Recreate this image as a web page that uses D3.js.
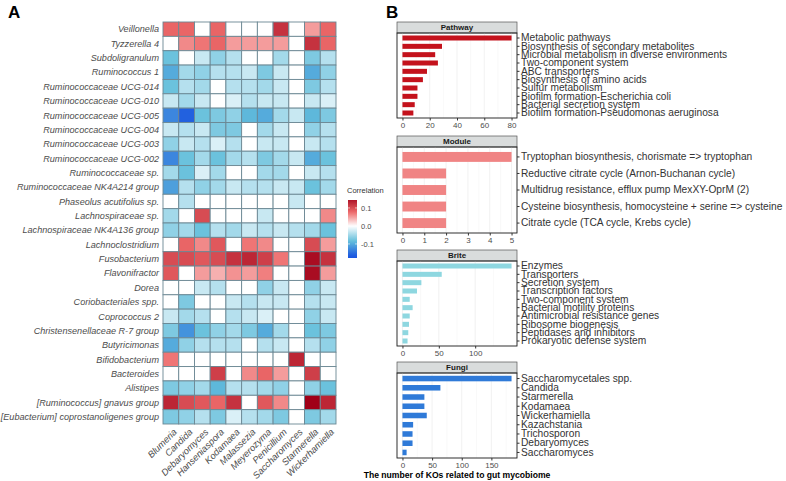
<!DOCTYPE html>
<html><head><meta charset="utf-8">
<script src="https://cdn.jsdelivr.net/npm/d3@7"></script>
<style>body{margin:0;background:#fff}svg{display:block;font-family:"Liberation Sans",Arial,sans-serif}</style>
</head><body><svg id="c" width="786" height="481"></svg>
<script>
// ---------- DATA ----------
const fungiCols = ["Blumeria","Candida","Debaryomyces","Hanseniaspora","Kodamaea","Malassezia","Meyerozyma","Penicillium","Saccharomyces","Starmerella","Wickerhamiella"];
const bacteriaRows = ["Veillonella","Tyzzerella 4","Subdoligranulum","Ruminococcus 1","Ruminococcaceae UCG-014","Ruminococcaceae UCG-010","Ruminococcaceae UCG-005","Ruminococcaceae UCG-004","Ruminococcaceae UCG-003","Ruminococcaceae UCG-002","Ruminococcaceae sp.","Ruminococcaceae NK4A214 group","Phaseolus acutifolius sp.","Lachnospiraceae sp.","Lachnospiraceae NK4A136 group","Lachnoclostridium","Fusobacterium","Flavonifractor","Dorea","Coriobacteriales spp.","Coprococcus 2","Christensenellaceae R-7 group","Butyricimonas","Bifidobacterium","Bacteroides","Alistipes","[Ruminococcus] gnavus group","[Eubacterium] coprostanoligenes group"];
const corrValues = [
 [0.08,0.08,0,0.08,0,0,0,0.12,0,0.05,0.08],
 [0,0.06,0.07,0.08,0.05,0.05,0.05,0.05,0,0.12,0.08],
 [-0.08,0,-0.03,-0.06,-0.04,0,0,-0.05,0,-0.07,-0.04],
 [-0.1,-0.05,-0.06,-0.04,-0.04,-0.03,-0.07,-0.03,0,-0.1,-0.06],
 [-0.08,-0.04,-0.05,0,-0.04,-0.04,-0.05,-0.03,0,-0.07,-0.04],
 [-0.03,-0.05,-0.03,0,-0.02,-0.04,-0.03,-0.03,0,-0.03,-0.02],
 [-0.13,-0.16,-0.08,-0.07,-0.06,-0.09,-0.1,-0.05,-0.03,-0.09,-0.07],
 [-0.03,-0.04,-0.03,-0.07,-0.07,0,-0.05,-0.03,0,-0.06,-0.04],
 [-0.06,-0.03,-0.04,-0.02,-0.04,0,-0.03,-0.03,0,-0.03,-0.04],
 [-0.13,-0.08,-0.05,-0.08,-0.05,-0.04,-0.07,-0.05,-0.03,-0.1,-0.08],
 [-0.05,-0.08,-0.02,-0.05,0,0,-0.05,-0.05,0,-0.03,-0.04],
 [-0.11,-0.04,-0.06,-0.05,-0.03,-0.04,-0.04,-0.03,-0.03,-0.08,-0.05],
 [0,-0.04,0,0,0,0,0,0,-0.03,0,0],
 [-0.05,0,0.1,0,0,0,-0.03,0,0,0,0.06],
 [-0.06,-0.05,-0.08,-0.04,-0.05,-0.03,-0.04,-0.03,-0.04,-0.05,-0.08],
 [0,0.08,0.06,0.09,0,0.07,0.06,0,0,0.1,0.05],
 [0.1,0.1,0.09,0.1,0.12,0.13,0.11,0.07,0,0.15,0.12],
 [0.09,0,0.05,0.04,0.055,0.05,0.065,0,0,0.15,0.05],
 [0,0,-0.03,-0.04,0,0,-0.06,-0.03,0,-0.06,-0.03],
 [0,-0.07,0,0,-0.03,-0.04,-0.03,-0.03,0,-0.04,-0.03],
 [-0.03,-0.05,-0.04,0,-0.04,-0.03,-0.02,0,0,-0.06,-0.03],
 [-0.07,-0.12,-0.08,-0.06,-0.05,-0.07,-0.1,-0.05,0,-0.08,-0.07],
 [-0.1,-0.06,-0.04,-0.04,-0.04,0,-0.04,-0.03,0,-0.04,-0.06],
 [0.07,0,0,0,0,0,0,0,0.13,0,0],
 [0,0,0,0.11,0,0.06,0.08,0.05,0,0.11,0],
 [-0.07,-0.06,-0.05,-0.09,-0.04,-0.04,-0.05,-0.06,0,-0.06,-0.08],
 [0.13,0.1,0.09,0.08,0.12,0,0.09,0.06,0,0.17,0.13],
 [-0.07,-0.06,-0.04,-0.07,-0.02,-0.04,-0.05,-0.07,0,-0.07,-0.05]
];
const legendTicks = [0.1, 0.0, -0.1];

const pathwayLabels = ["Metabolic pathways","Biosynthesis of secondary metabolites","Microbial metabolism in diverse environments","Two-component system","ABC transporters","Biosynthesis of amino acids","Sulfur metabolism","Biofilm formation-Escherichia coli","Bacterial secretion system","Biofilm formation-Pseudomonas aeruginosa"];
const pathwayValues = [80,29,24,26,18,15,11,11,9,8];
const moduleLabels = ["Tryptophan biosynthesis, chorismate => tryptophan","Reductive citrate cycle (Arnon-Buchanan cycle)","Multidrug resistance, efflux pump MexXY-OprM (2)","Cysteine biosynthesis, homocysteine + serine => cysteine","Citrate cycle (TCA cycle, Krebs cycle)"];
const moduleValues = [5,2,2,2,2];
const briteLabels = ["Enzymes","Transporters","Secretion system","Transcription factors","Two-component system","Bacterial motility proteins","Antimicrobial resistance genes","Ribosome biogenesis","Peptidases and inhibitors","Prokaryotic defense system"];
const briteValues = [150,54,26,20,10,14,10,9,8,7];
const fungiLabels = ["Saccharomycetales spp.","Candida","Starmerella","Kodamaea","Wickerhamiella","Kazachstania","Trichosporon","Debaryomyces","Saccharomyces"];
const fungiValues = [184,64,37,37,41,18,17,17,7];

// ---------- DRAW ----------
const svg = d3.select("#c");
const color = d3.scaleLinear()
  .domain([-0.17,-0.085,0,0.075,0.16])
  .range(["#1a55e0","#62bedb","#ffffff","#ee6b6b","#a00018"])
  .clamp(true);

svg.append("text").attr("x",8).attr("y",18).attr("font-size",17).attr("font-weight","bold").text("A");
svg.append("text").attr("x",386).attr("y",18).attr("font-size",17).attr("font-weight","bold").text("B");

const hx = d3.scaleBand().domain(fungiCols).range([163,336]);
const hy = d3.scaleBand().domain(bacteriaRows).range([22,424]);
const cells = [];
corrValues.forEach((row,i)=>row.forEach((v,j)=>cells.push({r:bacteriaRows[i],c:fungiCols[j],v})));
svg.append("g").selectAll("rect").data(cells).join("rect")
  .attr("x",d=>hx(d.c)).attr("y",d=>hy(d.r))
  .attr("width",hx.bandwidth()).attr("height",hy.bandwidth())
  .attr("fill",d=>color(d.v)).attr("stroke","#6b8793").attr("stroke-width",0.9);

svg.append("g").selectAll("text").data(bacteriaRows).join("text")
  .attr("x",159).attr("y",d=>hy(d)+hy.bandwidth()/2).attr("dy","0.35em")
  .attr("text-anchor","end").attr("font-size",9.1).attr("font-style","italic").attr("fill","#4d4d4d")
  .text(d=>d);
svg.append("g").selectAll("text").data(fungiCols).join("text")
  .attr("transform",d=>`translate(${hx(d)+hx.bandwidth()/2+2},428) rotate(-45)`)
  .attr("dy","0.7em")
  .attr("text-anchor","end").attr("font-size",9.3).attr("font-style","italic").attr("fill","#4d4d4d")
  .text(d=>d);

// legend
const lg = svg.append("g");
const lgTop = 200, lgBot = 258, lgMin = -0.178, lgMax = 0.144;
const ly = d3.scaleLinear().domain([lgMin,lgMax]).range([lgBot,lgTop]);
const defs = svg.append("defs");
const grad = defs.append("linearGradient").attr("id","lg").attr("x1",0).attr("y1",1).attr("x2",0).attr("y2",0);
d3.range(0,1.0001,0.05).forEach(t=>{
  grad.append("stop").attr("offset",t).attr("stop-color",color(lgMin+t*(lgMax-lgMin)));
});
lg.append("text").attr("x",347).attr("y",193).attr("font-size",7.5).attr("fill","#333").text("Correlation");
lg.append("rect").attr("x",348).attr("y",lgTop).attr("width",9).attr("height",lgBot-lgTop).attr("fill","url(#lg)");
legendTicks.forEach(t=>{
  lg.append("line").attr("x1",348).attr("x2",350).attr("y1",ly(t)).attr("y2",ly(t)).attr("stroke","#fff").attr("stroke-width",0.6);
  lg.append("line").attr("x1",355).attr("x2",357).attr("y1",ly(t)).attr("y2",ly(t)).attr("stroke","#fff").attr("stroke-width",0.6);
  lg.append("text").attr("x",361).attr("y",ly(t)).attr("dy","0.35em").attr("font-size",7.5).attr("fill","#4d4d4d").text(t.toFixed(1));
});

// facets
const facets = [
  {name:"Pathway",labels:pathwayLabels,values:pathwayValues,fill:"#c4121c",ticks:[0,20,40,60,80],sTop:22,pTop:33,pBot:118},
  {name:"Module",labels:moduleLabels,values:moduleValues,fill:"#f08484",ticks:[0,1,2,3,4,5],sTop:136,pTop:147,pBot:233},
  {name:"Brite",labels:briteLabels,values:briteValues,fill:"#8ed7e0",ticks:[0,50,100],sTop:250,pTop:261,pBot:346},
  {name:"Fungi",labels:fungiLabels,values:fungiValues,fill:"#2f7ad8",ticks:[0,50,100,150],sTop:362,pTop:373,pBot:458}
];
const pL = 397, pR = 517;
facets.forEach(f=>{
  const g = svg.append("g");
  const mx = d3.max(f.values);
  const x = d3.scaleLinear().domain([-0.05*mx, 1.05*mx]).range([pL,pR]);
  const y = d3.scaleBand().domain(f.labels).range([f.pTop,f.pBot]).paddingInner(0.4).paddingOuter(0.3);
  // strip
  g.append("rect").attr("x",pL).attr("y",f.sTop).attr("width",pR-pL).attr("height",f.pTop-f.sTop)
    .attr("fill","#d9dcdc").attr("stroke","#555").attr("stroke-width",0.7);
  g.append("text").attr("x",(pL+pR)/2).attr("y",(f.sTop+f.pTop)/2).attr("dy","0.35em")
    .attr("text-anchor","middle").attr("font-size",8).attr("font-weight","bold").attr("fill","#1a1a1a").text(f.name);
  // grid
  const minor = f.ticks.slice(0,-1).map((t,i)=>(t+f.ticks[i+1])/2);
  const last = f.ticks[f.ticks.length-1], step = f.ticks[1]-f.ticks[0];
  if (last+step/2 < 1.05*mx) minor.push(last+step/2);
  g.selectAll(".mn").data(minor).join("line").attr("x1",d=>x(d)).attr("x2",d=>x(d))
    .attr("y1",f.pTop).attr("y2",f.pBot).attr("stroke","#f3f3f3").attr("stroke-width",0.5);
  g.selectAll(".mj").data(f.ticks).join("line").attr("x1",d=>x(d)).attr("x2",d=>x(d))
    .attr("y1",f.pTop).attr("y2",f.pBot).attr("stroke","#ebebeb").attr("stroke-width",0.7);
  // bars
  g.selectAll(".bar").data(f.labels).join("rect")
    .attr("x",x(0)).attr("y",d=>y(d)).attr("height",y.bandwidth())
    .attr("width",(d,i)=>x(f.values[i])-x(0)).attr("fill",f.fill);
  // border
  g.append("rect").attr("x",pL).attr("y",f.pTop).attr("width",pR-pL).attr("height",f.pBot-f.pTop)
    .attr("fill","none").attr("stroke","#1a1a1a").attr("stroke-width",0.9);
  // x axis
  const xa = g.append("g").attr("transform",`translate(0,${f.pBot})`)
    .call(d3.axisBottom(x).tickValues(f.ticks).tickSize(2.5).tickPadding(2).tickFormat(d3.format("d")));
  xa.select(".domain").remove();
  xa.selectAll("line").attr("stroke","#333");
  xa.selectAll("text").attr("font-size",8).attr("fill","#4d4d4d").attr("font-family","Liberation Sans, Arial, sans-serif");
  // y axis right
  const ya = g.append("g").attr("transform",`translate(${pR},0)`)
    .call(d3.axisRight(y).tickSize(2.5).tickPadding(1.5));
  ya.select(".domain").remove();
  ya.selectAll("line").attr("stroke","#333");
  ya.selectAll("text").attr("font-size",10.2).attr("fill","#333").attr("font-family","Liberation Sans, Arial, sans-serif");
});
svg.append("text").attr("x",(pL+pR)/2).attr("y",478).attr("text-anchor","middle")
  .attr("font-size",8.6).attr("font-weight","bold").attr("fill","#000")
  .text("The number of KOs related to gut mycobiome");
</script></body></html>
